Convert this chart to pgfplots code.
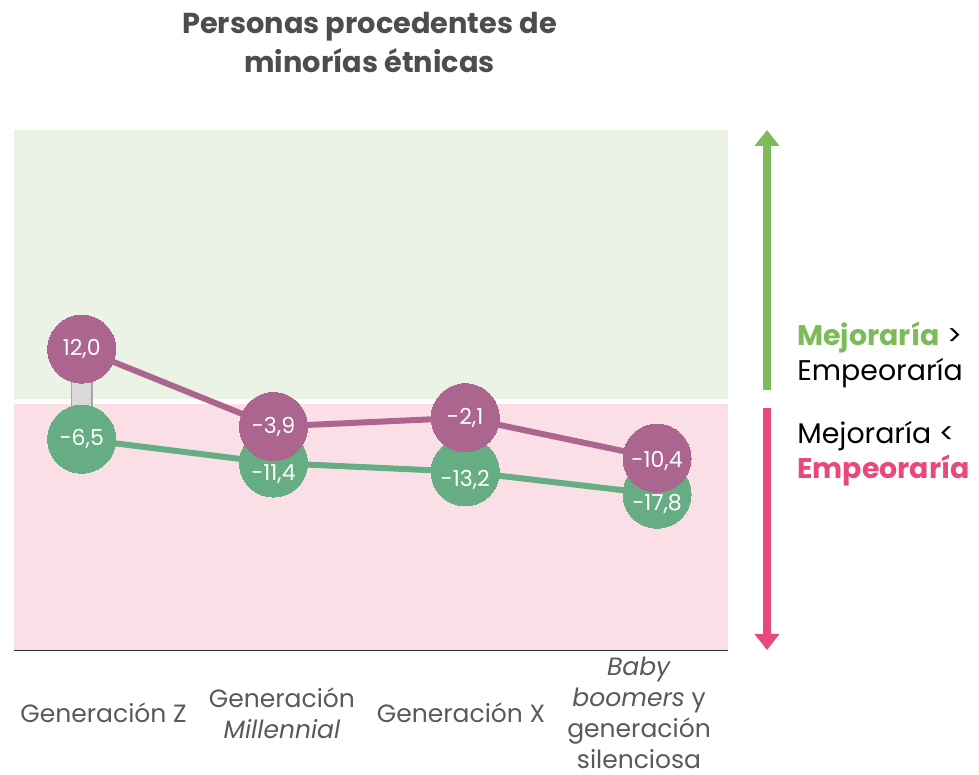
\documentclass[border=0pt]{standalone}
\usepackage{fontspec}
\setmainfont{Poppins}
\usepackage{pgfplots}
\usepackage{pgfplotstable}
\pgfplotsset{compat=1.18}
\usetikzlibrary{arrows.meta}
\definecolor{purp}{HTML}{AB658E}
\definecolor{grn}{HTML}{66AD84}
\definecolor{bggreen}{HTML}{EBF3E6}
\definecolor{bgpink}{HTML}{FADFE6}
\definecolor{arrowgreen}{HTML}{7DBA5A}
\definecolor{arrowpink}{HTML}{E8497A}
\definecolor{titlegray}{HTML}{4D4D4D}
\definecolor{labgray}{HTML}{595959}
\definecolor{bargray}{HTML}{D9D9D9}
\definecolor{barborder}{HTML}{A6A6A6}

\pgfplotstableread{
x y label dy
0 -6.5 -6,5 0
1 -11.4 -11,4 -5.5
2 -13.2 -13,2 -4
3 -17.8 -17,8 -5
}\greendata
\pgfplotstableread{
x y label dy
0 12.0 12,0 0
1 -3.9 -3,9 0
2 -2.1 -2,1 0
3 -10.4 -10,4 -1.5
}\purpdata

\begin{document}
\begin{tikzpicture}
\useasboundingbox (0,0) rectangle (489.5pt,387.5pt);
\begin{axis}[
  at={(7pt,62.5pt)}, anchor=south west,
  scale only axis, width=357pt, height=260pt,
  xmin=-0.353, xmax=3.37, ymin=-49.8, ymax=57,
  axis y line=none, axis x line*=bottom,
  x axis line style={draw=black!80, line width=1pt},
  xtick={0.114,1.044,1.978,2.906},
  xticklabels={Generación Z, {Generación\\\textit{Millennial}}, Generación X, {\textit{Baby}\\\textit{boomers} y\\generación\\silenciosa}},
  major tick length=0pt,
  xticklabel style={align=center, anchor=center, yshift=-31.5pt, text=labgray, font=\fontsize{12.5}{15.5}\selectfont},
  clip=false,
]
\fill[bggreen] (axis cs:-0.353,1.8) rectangle (axis cs:3.37,57);
\fill[bgpink] (axis cs:-0.353,-49.8) rectangle (axis cs:3.37,0.75);

\addplot[barborder, line width=11pt, forget plot] coordinates {(0,12.0) (0,-6.5)};
\addplot[bargray, line width=9.5pt, forget plot] coordinates {(0,12.0) (0,-6.5)};
\addplot[barborder, line width=11pt, forget plot] coordinates {(1,-3.9) (1,-11.4)};
\addplot[bargray, line width=9.5pt, forget plot] coordinates {(1,-3.9) (1,-11.4)};
\addplot[barborder, line width=11pt, forget plot] coordinates {(2,-2.1) (2,-13.2)};
\addplot[bargray, line width=9.5pt, forget plot] coordinates {(2,-2.1) (2,-13.2)};
\addplot[barborder, line width=11pt, forget plot] coordinates {(3,-10.4) (3,-17.8)};
\addplot[bargray, line width=9.5pt, forget plot] coordinates {(3,-10.4) (3,-17.8)};

\addplot[grn, line width=3pt, mark=*, mark size=17pt,
  mark options={fill=grn, draw=grn, line width=0pt},
  nodes near coords, point meta=explicit symbolic,
  visualization depends on={\thisrow{dy}\as\dy},
  every node near coord/.style={anchor=center, yshift=\dy pt, text=white, font=\fontsize{11}{13}\selectfont}]
  table[x=x, y=y, meta=label] {\greendata};
\addplot[purp, line width=3pt, mark=*, mark size=17pt,
  mark options={fill=purp, draw=purp, line width=0pt},
  nodes near coords, point meta=explicit symbolic,
  visualization depends on={\thisrow{dy}\as\dy},
  every node near coord/.style={anchor=center, yshift=\dy pt, text=white, font=\fontsize{11}{13}\selectfont}]
  table[x=x, y=y, meta=label] {\purpdata};
\end{axis}

% title
\node[align=center, text=titlegray, font=\bfseries\fontsize{14.4}{19.5}\selectfont] at (184.75pt,366.25pt) {Personas procedentes de\\minorías étnicas};

% arrows
\draw[arrowgreen, line width=4pt, -{Triangle[width=12pt,length=8pt]}] (383.5pt,192.5pt) -- (383.5pt,322.5pt);
\draw[arrowpink, line width=4pt, -{Triangle[width=12pt,length=8pt]}] (383.5pt,183.5pt) -- (383.5pt,62.5pt);

% right texts
\node[anchor=west, align=left, inner sep=0pt, font=\fontsize{14.2}{17.5}\selectfont] at (398.5pt,210.25pt) {\textcolor{arrowgreen}{\bfseries Mejoraría} >\\Empeoraría};
\node[anchor=west, align=left, inner sep=0pt, font=\fontsize{14.2}{17.5}\selectfont] at (398.5pt,160.75pt) {Mejoraría <\\\textcolor{arrowpink}{\bfseries Empeoraría}};
\end{tikzpicture}
\end{document}
